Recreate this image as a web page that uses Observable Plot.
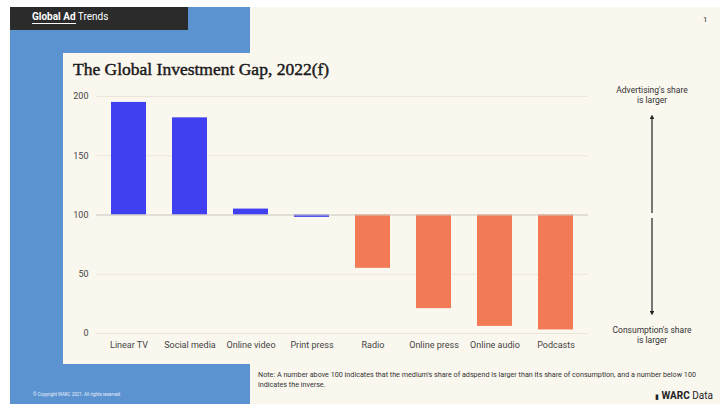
<!DOCTYPE html>
<html><head><meta charset="utf-8">
<script src="https://cdn.jsdelivr.net/npm/d3@7"></script>
<script src="https://cdn.jsdelivr.net/npm/@observablehq/plot@0.6"></script>
<style>
html,body{margin:0;padding:0;background:#fff;}
#page{position:relative;width:727px;height:417px;overflow:hidden;font-family:Roboto,"Noto Sans",sans-serif;}
.abs{position:absolute;white-space:nowrap;}
</style></head>
<body><div id="page">
<div class="abs" style="left:10px;top:7px;width:710px;height:397px;background:#faf7ef"></div>
<div class="abs" style="left:10px;top:7px;width:240px;height:397px;background:#5b93d1"></div>
<div class="abs" style="left:10px;top:7px;width:178px;height:23px;background:#2b2b2b"></div>
<div class="abs" style="left:32px;top:11px;color:#fff;font-size:10px;line-height:12px;"><span style="font-weight:700;border-bottom:1.5px solid #fff;padding-bottom:1px">Global Ad</span> Trends</div>
<div class="abs" style="left:63px;top:53px;width:300px;height:311px;background:#faf7ef"></div>
<div class="abs" style="left:703px;top:15px;font-size:8px;color:#333">1</div>
<div class="abs" id="title" style="left:73px;top:59px;font-family:'Liberation Serif',serif;font-size:17.5px;font-weight:400;-webkit-text-stroke:0.45px #1a1a1a;color:#1a1a1a"></div>
<div class="abs" id="chart" style="left:62px;top:86px"></div>
<div class="abs" id="annot" style="left:600px;top:84px;width:104px;height:270px"></div>
<div class="abs" id="note" style="left:258px;top:370px;width:445px;font-size:7.2px;line-height:9.5px;color:#333;white-space:normal"></div>
<div class="abs" style="left:33px;top:392px;font-size:4.5px;color:#e8f0fa">© Copyright WARC 2021. All rights reserved.</div>
<div class="abs" style="left:655px;top:390px;font-size:10px;color:#222"><span style="font-size:7px">▮</span> <b>WARC</b> Data</div>
</div>
<script>
const titleText = "The Global Investment Gap, 2022(f)";
const media = ["Linear TV","Social media","Online video","Print press","Radio","Online press","Online audio","Podcasts"];
const index = [195,182,105,98,55,21,6,3];
const blueCount = 4; // first four media drawn in blue in the original
const yTicks = [0,50,100,150,200];
const topLabel = ["Advertising's share","is larger"];
const bottomLabel = ["Consumption's share","is larger"];
const noteText = "Note: A number above 100 indicates that the medium's share of adspend is larger than its share of consumption, and a number below 100 indicates the inverse.";

document.getElementById("title").textContent = titleText;
document.getElementById("note").textContent = noteText;

const data = media.map((m,i)=>({medium:m, value:index[i], blue: i < blueCount}));
const chart = Plot.plot({
  width: 530, height: 270,
  marginLeft: 34, marginRight: 4, marginTop: 10, marginBottom: 23,
  style: {background:"transparent", fontFamily:"Roboto, sans-serif", fontSize:"9px", color:"#444"},
  x: {domain: media, paddingInner: 0.43, paddingOuter: 0.215, label: null, tickSize: 0, tickPadding: 8},
  y: {domain: [0,200], ticks: yTicks, label: null, tickSize: 0, tickPadding: 8},
  marks: [
    Plot.ruleY(yTicks.filter(d=>d!==100), {stroke:"#ebe6da", strokeWidth:1}),
    Plot.barY(data, {x:"medium", y1:100, y2:"value", fill:d=>d.blue?"#4040f0":"#f27b55"}),
    Plot.ruleY([100], {stroke:"#c9c6be", strokeWidth:1})
  ]
});
document.getElementById("chart").appendChild(chart);

const ns="http://www.w3.org/2000/svg";
const a = document.getElementById("annot");
a.innerHTML = `<svg width="104" height="270" xmlns="${ns}">
<defs><marker id="ah" viewBox="0 0 6 6" refX="3" refY="3" markerWidth="4" markerHeight="4" orient="auto-start-reverse"><path d="M0,0L6,3L0,6z" fill="#222"/></marker></defs>
<line x1="52" y1="129" x2="52" y2="33" stroke="#222" stroke-width="1.2" marker-end="url(#ah)"/>
<line x1="52" y1="134" x2="52" y2="229" stroke="#222" stroke-width="1.2" marker-end="url(#ah)"/>
</svg>`;
const mk=(lines,top)=>{const d=document.createElement("div");d.className="abs";d.style.cssText=`left:0;top:${top}px;width:104px;text-align:center;font-size:8.5px;line-height:10px;color:#333`;d.innerHTML=lines.join("<br>");a.appendChild(d);};
mk(topLabel,1);
mk(bottomLabel,241);
</script>
</body></html>
